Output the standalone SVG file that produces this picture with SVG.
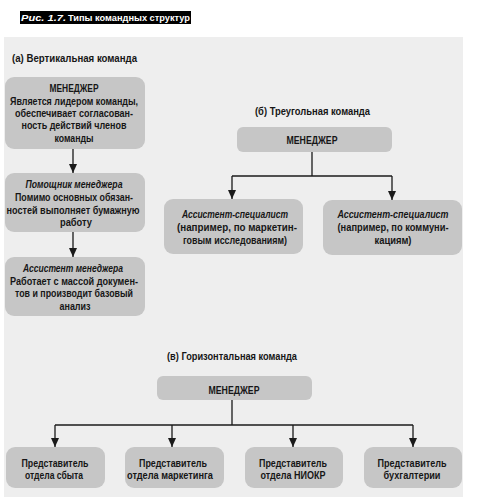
<svg xmlns="http://www.w3.org/2000/svg" width="477" height="502" viewBox="0 0 477 502">
<style>
.t{font-family:"Liberation Sans",Arial,sans-serif;font-size:10px;font-weight:bold;fill:#161616}
.c{text-anchor:middle}
.i{font-style:italic}
.box{fill:#c6c6c6}
.ln{fill:none;stroke:#1a1a1a;stroke-width:1.3}
.ttl{font-family:"Liberation Sans",Arial,sans-serif;font-size:9px;font-weight:bold;fill:#ffffff}
</style>
<defs>
<marker id="ah" markerUnits="userSpaceOnUse" markerWidth="10" markerHeight="8" refX="9" refY="4" orient="auto" viewBox="0 0 10 8">
<path d="M0,0 L9,4 L0,8 Z" fill="#1a1a1a"/>
</marker>
</defs>
<rect width="477" height="502" fill="#ffffff"/>
<g id="title">
<rect x="20" y="11" width="171" height="13" fill="#000000"/>
<text class="ttl i" x="21" y="21" textLength="45" lengthAdjust="spacingAndGlyphs">Рис. 1.7.</text>
<text class="ttl" x="68" y="21" textLength="122" lengthAdjust="spacingAndGlyphs">Типы командных структур</text>
</g>
<rect id="panel" x="4" y="37" width="459" height="460" fill="#eeeeee"/>
<g id="labels">
<text class="t" x="12" y="62" textLength="125" lengthAdjust="spacingAndGlyphs">(а) Вертикальная команда</text>
<text class="t" x="255" y="115" textLength="115" lengthAdjust="spacingAndGlyphs">(б) Треугольная команда</text>
<text class="t" x="167" y="360" textLength="130" lengthAdjust="spacingAndGlyphs">(в) Горизонтальная команда</text>
</g>
<g id="connectors">
<line class="ln" x1="73" y1="149" x2="73" y2="173" marker-end="url(#ah)"/>
<line class="ln" x1="73" y1="232" x2="73" y2="257" marker-end="url(#ah)"/>
<polyline class="ln" points="312,152 312,176"/>
<polyline class="ln" points="232,176 392,176"/>
<line class="ln" x1="232" y1="176" x2="232" y2="199" marker-end="url(#ah)"/>
<line class="ln" x1="392" y1="176" x2="392" y2="200" marker-end="url(#ah)"/>
<polyline class="ln" points="232,400 232,425"/>
<polyline class="ln" points="55,425 413,425"/>
<line class="ln" x1="55" y1="425" x2="55" y2="447" marker-end="url(#ah)"/>
<line class="ln" x1="172" y1="425" x2="172" y2="447" marker-end="url(#ah)"/>
<line class="ln" x1="293" y1="425" x2="293" y2="447" marker-end="url(#ah)"/>
<line class="ln" x1="413" y1="425" x2="413" y2="447" marker-end="url(#ah)"/>
</g>
<g id="v-manager">
<rect class="box" x="5" y="77" width="140" height="72" rx="9"/>
<text class="t c" x="74" y="92" textLength="49" lengthAdjust="spacingAndGlyphs">МЕНЕДЖЕР</text>
<text class="t c" x="74" y="105" textLength="128" lengthAdjust="spacingAndGlyphs">Является лидером команды,</text>
<text class="t c" x="74" y="117" textLength="118" lengthAdjust="spacingAndGlyphs">обеспечивает согласован-</text>
<text class="t c" x="74" y="129" textLength="105" lengthAdjust="spacingAndGlyphs">ность действий членов</text>
<text class="t c" x="74" y="142" textLength="39" lengthAdjust="spacingAndGlyphs">команды</text>
</g>
<g id="v-helper">
<rect class="box" x="5" y="173" width="140" height="59" rx="9"/>
<text class="t c i" x="74" y="188" textLength="97" lengthAdjust="spacingAndGlyphs">Помощник менеджера</text>
<text class="t c" x="74" y="201" textLength="118" lengthAdjust="spacingAndGlyphs">Помимо основных обязан-</text>
<text class="t c" x="73" y="214" textLength="133" lengthAdjust="spacingAndGlyphs">ностей выполняет бумажную</text>
<text class="t c" x="76" y="226" textLength="32" lengthAdjust="spacingAndGlyphs">работу</text>
</g>
<g id="v-assistant">
<rect class="box" x="5" y="257" width="140" height="59" rx="9"/>
<text class="t c i" x="73" y="272" textLength="100" lengthAdjust="spacingAndGlyphs">Ассистент менеджера</text>
<text class="t c" x="74" y="285" textLength="128" lengthAdjust="spacingAndGlyphs">Работает с массой докумен-</text>
<text class="t c" x="74" y="297" textLength="118" lengthAdjust="spacingAndGlyphs">тов и производит базовый</text>
<text class="t c" x="75" y="310" textLength="31" lengthAdjust="spacingAndGlyphs">анализ</text>
</g>
<g id="t-manager">
<rect class="box" x="237" y="127" width="155" height="25" rx="6"/>
<text class="t c" x="312" y="144" textLength="51" lengthAdjust="spacingAndGlyphs">МЕНЕДЖЕР</text>
</g>
<g id="t-specialist-1">
<rect class="box" x="164" y="199" width="139" height="55" rx="9"/>
<text class="t c i" x="235" y="218" textLength="106" lengthAdjust="spacingAndGlyphs">Ассистент-специалист</text>
<text class="t c" x="237" y="231" textLength="120" lengthAdjust="spacingAndGlyphs">(например, по маркетин-</text>
<text class="t c" x="235" y="244" textLength="104" lengthAdjust="spacingAndGlyphs">говым исследованиям)</text>
</g>
<g id="t-specialist-2">
<rect class="box" x="323" y="200" width="139" height="55" rx="9"/>
<text class="t c i" x="393" y="218" textLength="111" lengthAdjust="spacingAndGlyphs">Ассистент-специалист</text>
<text class="t c" x="393" y="231" textLength="111" lengthAdjust="spacingAndGlyphs">(например, по коммуни-</text>
<text class="t c" x="393" y="244" textLength="37" lengthAdjust="spacingAndGlyphs">кациям)</text>
</g>
<g id="h-manager">
<rect class="box" x="157" y="376" width="155" height="24" rx="6"/>
<text class="t c" x="234" y="394" textLength="51" lengthAdjust="spacingAndGlyphs">МЕНЕДЖЕР</text>
</g>
<g id="h-sales">
<rect class="box" x="6" y="447" width="99" height="41" rx="9"/>
<text class="t c" x="55" y="467" textLength="67" lengthAdjust="spacingAndGlyphs">Представитель</text>
<text class="t c" x="54" y="479" textLength="58" lengthAdjust="spacingAndGlyphs">отдела сбыта</text>
</g>
<g id="h-marketing">
<rect class="box" x="125" y="447" width="99" height="41" rx="9"/>
<text class="t c" x="173" y="467" textLength="68" lengthAdjust="spacingAndGlyphs">Представитель</text>
<text class="t c" x="170" y="479" textLength="86" lengthAdjust="spacingAndGlyphs">отдела маркетинга</text>
</g>
<g id="h-rnd">
<rect class="box" x="245" y="447" width="98" height="41" rx="9"/>
<text class="t c" x="293" y="467" textLength="68" lengthAdjust="spacingAndGlyphs">Представитель</text>
<text class="t c" x="293" y="479" textLength="65" lengthAdjust="spacingAndGlyphs">отдела НИОКР</text>
</g>
<g id="h-accounting">
<rect class="box" x="364" y="447" width="98" height="41" rx="9"/>
<text class="t c" x="412" y="467" textLength="69" lengthAdjust="spacingAndGlyphs">Представитель</text>
<text class="t c" x="412" y="479" textLength="57" lengthAdjust="spacingAndGlyphs">бухгалтерии</text>
</g>
</svg>
